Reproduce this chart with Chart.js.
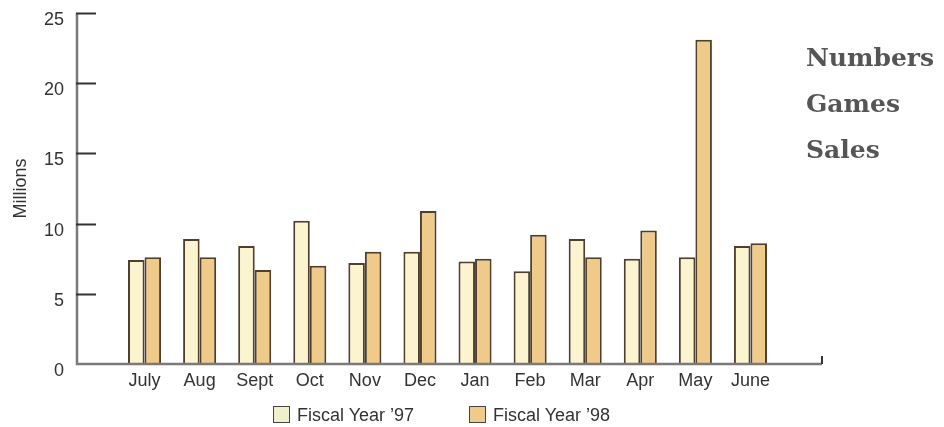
<!DOCTYPE html>
<html>
<head>
<meta charset="utf-8">
<script src="https://cdn.jsdelivr.net/npm/chart.js@4"></script>
<style>
  body { margin: 0; background: #fff; }
  #wrap { position: relative; width: 944px; height: 427px; }
  #side {
    position: absolute; left: 806px; top: 35px;
    font: bold 25px "DejaVu Serif", serif; line-height: 46px; color: #555;
  }
  #legend {
    position: absolute; top: 405px; left: 0; width: 944px; height: 20px;
    font: 18px "Liberation Sans", Arial, sans-serif; color: #333;
  }
  #legend span.item { position: absolute; top: 0; white-space: nowrap; }
  #legend span.box {
    display: inline-block; width: 15px; height: 15px; border: 1.5px solid #444;
    vertical-align: -2px; margin-right: 7px;
  }
</style>
</head>
<body>
<div id="wrap">
  <canvas id="chart"></canvas>
  <div id="side">Numbers<br>Games<br>Sales</div>
  <div id="legend"></div>
</div>
<script>
const months = ['July', 'Aug', 'Sept', 'Oct', 'Nov', 'Dec', 'Jan', 'Feb', 'Mar', 'Apr', 'May', 'June'];
const fy97 = [7.4, 8.9, 8.4, 10.2, 7.2, 8.0, 7.3, 6.6, 8.9, 7.5, 7.6, 8.4];
const fy98 = [7.6, 7.6, 6.7, 7.0, 8.0, 10.9, 7.5, 9.2, 7.6, 9.5, 23.1, 8.6];
const yTicks = [0, 5, 10, 15, 20, 25];
const seriesNames = ["Fiscal Year \u201997", "Fiscal Year \u201998"];

const fill97 = '#fcf3cf';
const fill98 = '#efca89';
const edge = '#4e3f2e';

// axis lines sit outside the plot area in the original, with ticks pointing inward
const axesPlugin = {
  id: 'axes',
  afterDraw(chart) {
    const ctx = chart.ctx;
    const area = chart.chartArea;
    const y = chart.scales.y;
    const left = area.left - 40;
    const right = area.right + 44;
    ctx.save();
    ctx.strokeStyle = '#7a7a7a';
    ctx.lineWidth = 2.5;
    ctx.beginPath();
    ctx.moveTo(left, y.getPixelForValue(25));
    ctx.lineTo(left, area.bottom);
    ctx.lineTo(right, area.bottom);
    ctx.stroke();
    ctx.strokeStyle = '#333';
    ctx.lineWidth = 2;
    ctx.beginPath();
    y.ticks.forEach(t => {
      if (t.value === 0) return;
      const py = Math.round(y.getPixelForValue(t.value)) + 0.5;
      ctx.moveTo(left - 1, py);
      ctx.lineTo(left + 19, py);
    });
    ctx.moveTo(right, area.bottom - 8);
    ctx.lineTo(right, area.bottom);
    ctx.stroke();
    ctx.restore();
  }
};

const data = {
  labels: months,
  datasets: [{
    label: seriesNames[0],
    data: fy97,
    backgroundColor: fill97,
    borderColor: edge,
    borderWidth: 2,
  }, {
    label: seriesNames[1],
    data: fy98,
    backgroundColor: fill98,
    borderColor: edge,
    borderWidth: 2,
  }]
};

const config = {
  type: 'bar',
  data: data,
  options: {
    responsive: true,
    maintainAspectRatio: false,
    animation: false,
    categoryPercentage: 0.6,
    barPercentage: 1.0,
    layout: { padding: { top: 13, right: 166, bottom: 0, left: 0 } },
    plugins: {
      legend: { display: false },
      tooltip: { enabled: false },
    },
    scales: {
      x: {
        grid: { display: false, drawTicks: false },
        border: { display: false },
        ticks: {
          color: '#333',
          padding: 6,
          font: { family: '"Liberation Sans", Arial, sans-serif', size: 18 },
        },
        afterFit: s => { s.height = 63; },
      },
      y: {
        min: 0,
        max: 25,
        afterBuildTicks: s => { s.ticks = yTicks.map(v => ({ value: v })); },
        grid: { display: false, drawTicks: true, tickLength: 53 },
        border: { display: false },
        ticks: {
          color: '#333',
          padding: 0,
          labelOffset: 7,
          font: { family: '"Liberation Sans", Arial, sans-serif', size: 18 },
        },
        title: {
          display: true,
          text: 'Millions',
          color: '#333',
          padding: { top: 10, bottom: 0 },
          font: { family: '"Liberation Sans", Arial, sans-serif', size: 18 },
        },
        afterFit: s => { s.width = 117; },
      }
    }
  },
  plugins: [axesPlugin]
};

const myChart = new Chart(document.getElementById('chart'), config);

// legend below the plot
const legendBoxes = [[273, '#f1f1c9'], [469, fill98]];
const legend = document.getElementById('legend');
seriesNames.forEach((name, i) => {
  const item = document.createElement('span');
  item.className = 'item';
  item.style.left = legendBoxes[i][0] + 'px';
  item.innerHTML = '<span class="box" style="background:' + legendBoxes[i][1] + '"></span>' + name;
  legend.appendChild(item);
});
</script>
</body>
</html>
